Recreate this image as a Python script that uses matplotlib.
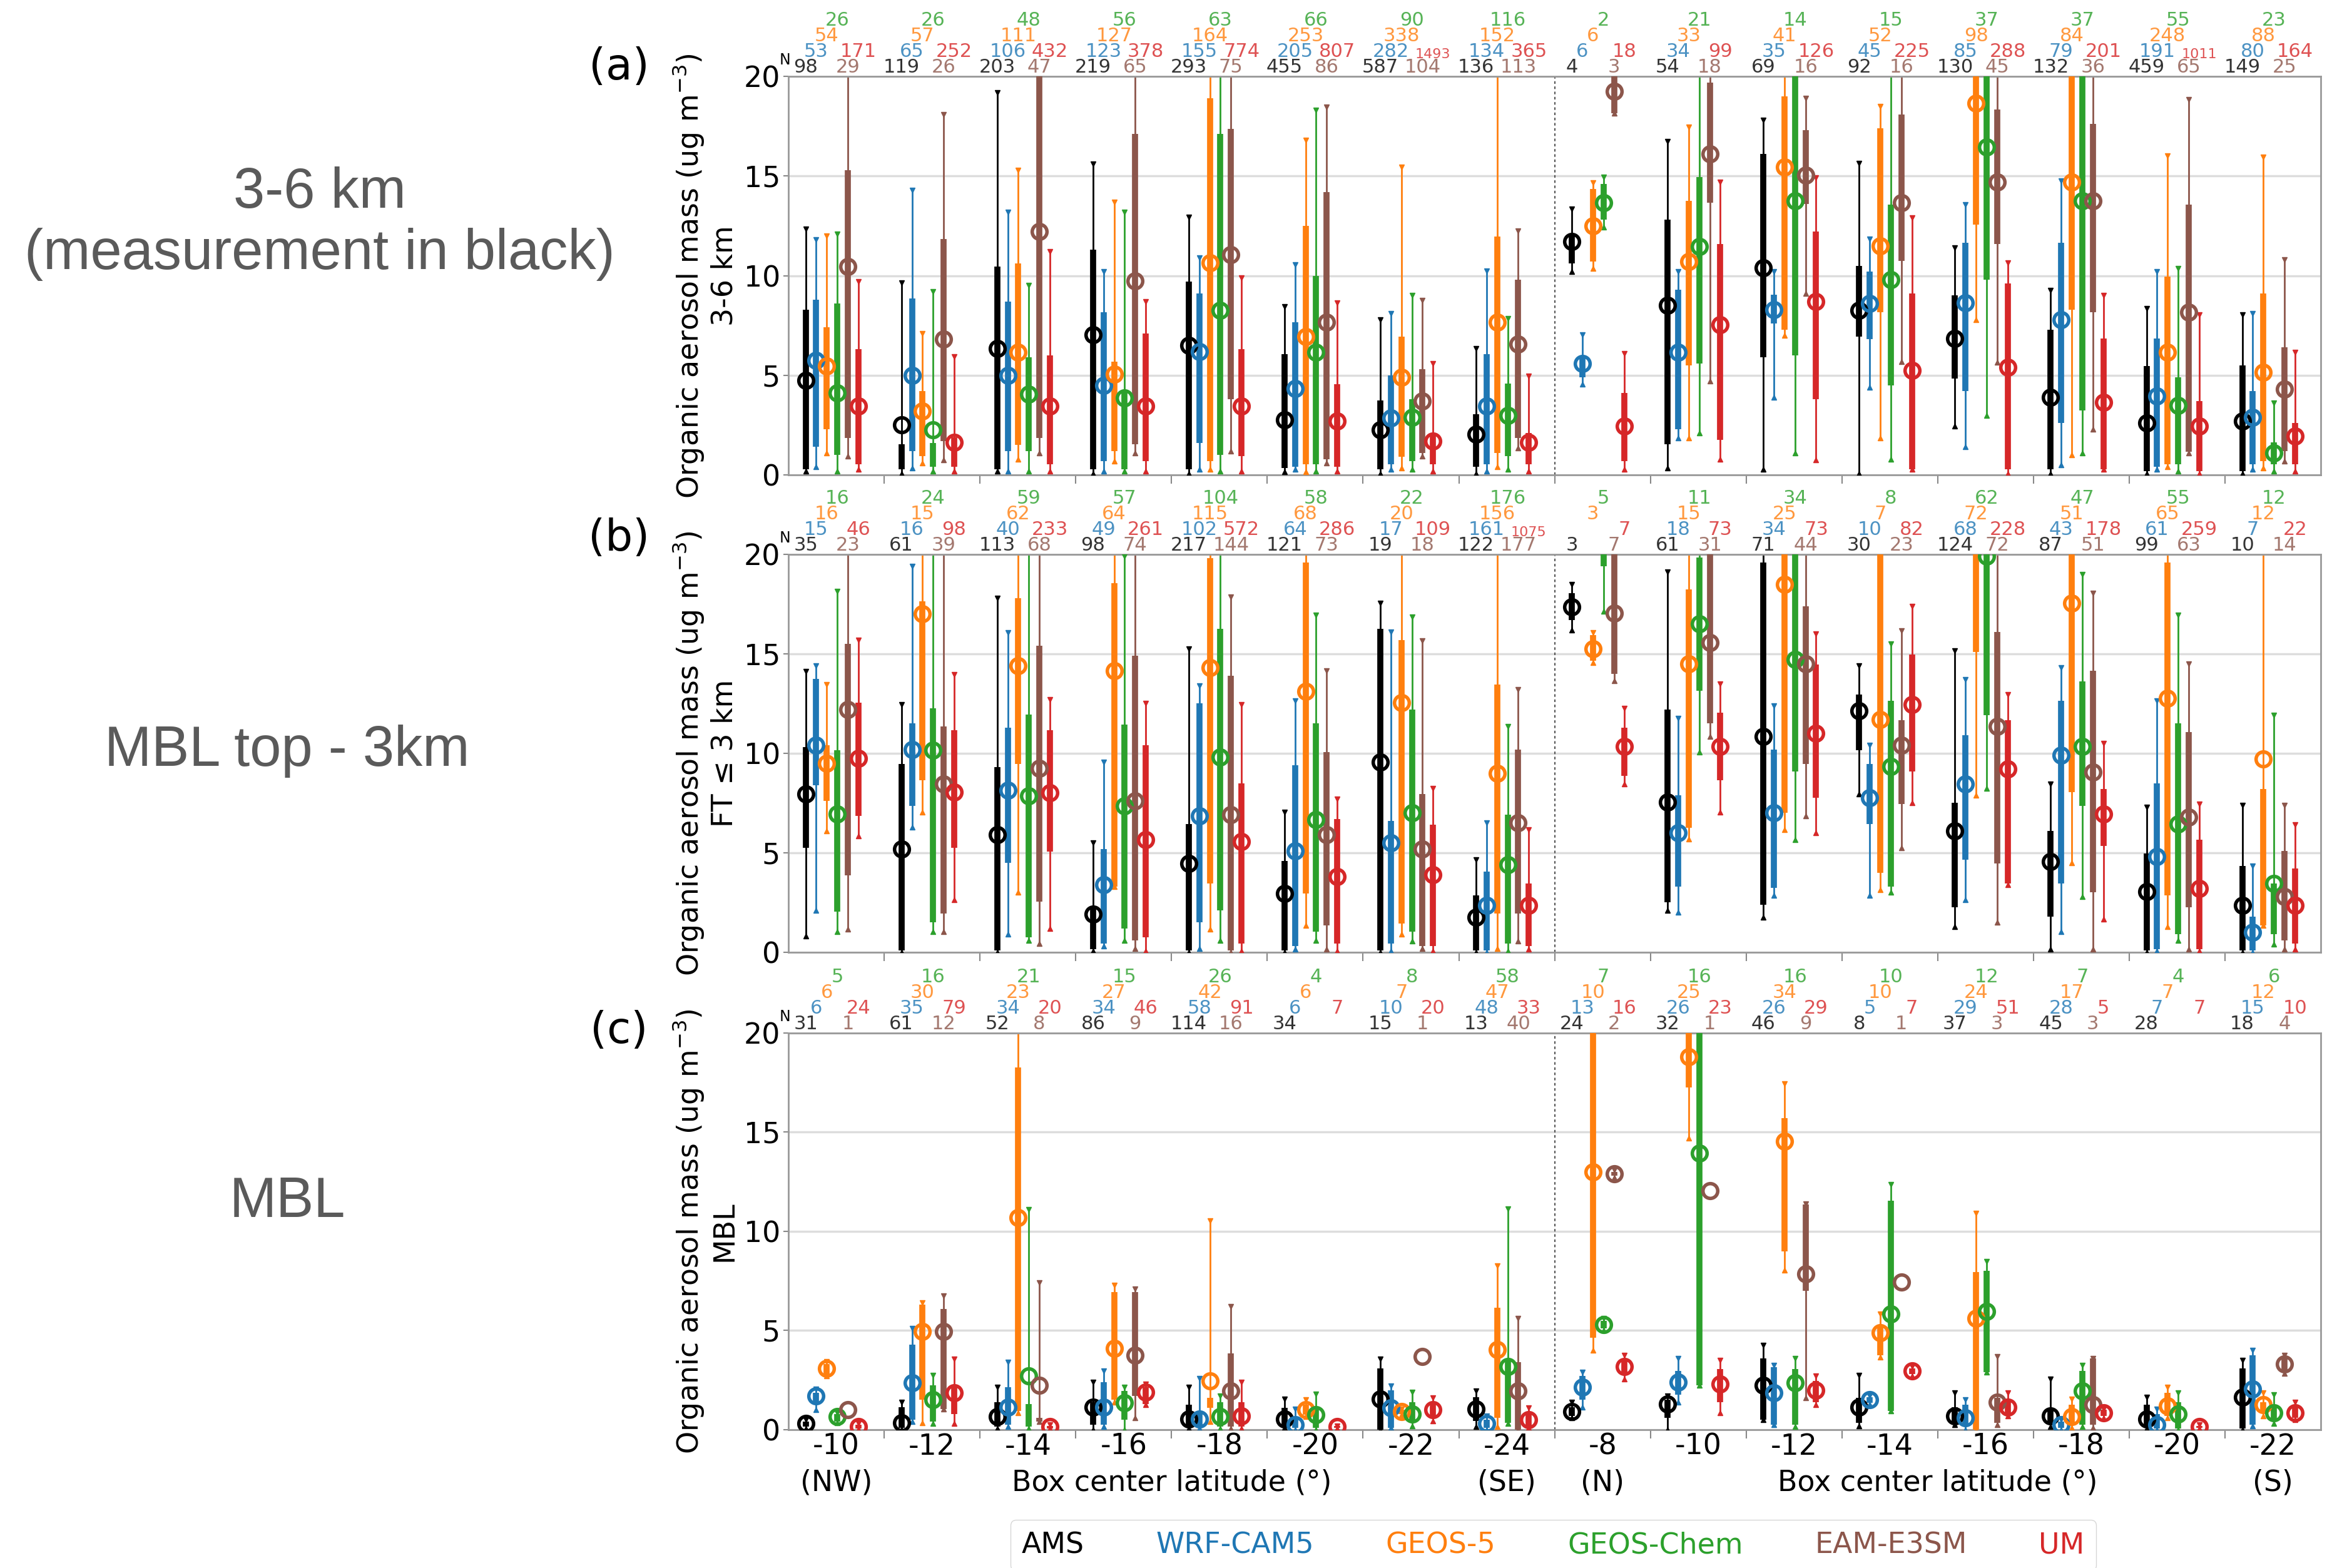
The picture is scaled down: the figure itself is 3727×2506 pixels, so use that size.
import numpy as np
import matplotlib
matplotlib.use("Agg")
import matplotlib.pyplot as plt
from matplotlib.lines import Line2D

models = ['AMS', 'WRF-CAM5', 'GEOS-5', 'GEOS-Chem', 'EAM-E3SM', 'UM']
colors = ['#000000', '#1f77b4', '#ff7f0e', '#2ca02c', '#8c564b', '#d62728']
lat_left = ['-10', '-12', '-14', '-16', '-18', '-20', '-22', '-24']
lat_right = ['-8', '-10', '-12', '-14', '-16', '-18', '-20', '-22']

# ---- panel (a): 3-6 km ; rows = models, columns = 16 boxes (8 routine + 8 N-S)
a_wlo = [[0.2, 0.05, 0.2, 0.05, 0.05, 0.15, 0.05, 0.05, 10.2, 0.35, 0.3, 0.05, 2.45, 0.05, 0.05, 0.05],
         [0.4, 0.35, 0.2, 0.2, 0.3, 0.3, 0.3, 0.2, 4.55, 1.85, 3.9, 4.4, 1.4, 0.5, 0.3, 0.3],
         [1.1, 0.6, 0.8, 0.7, 0.3, 0.15, 0.35, 0.4, 10.35, 1.85, 7.0, 1.85, 7.8, 1.0, 0.4, 0.35],
         [0.2, 0.2, 0.2, 0.2, 0.2, 0.2, 0.3, 0.3, 12.45, 2.1, 1.1, 0.8, 3.0, 1.1, 0.2, 0.2],
         [0.95, 0.75, 1.1, 1.1, 1.2, 0.6, 0.95, 1.35, 18.15, 4.7, 9.1, 5.7, 5.65, 2.3, 1.1, 0.7],
         [0.3, 0.2, 0.2, 0.2, 0.2, 0.2, 0.2, 0.2, 0.3, 0.8, 0.75, 0.3, 0.05, 0.3, 0.05, 0.2]]
a_q1 = [[0.3, 0.3, 0.3, 0.3, 0.3, 0.35, 0.3, 0.4, 10.6, 1.55, 5.9, 6.95, 4.85, 0.3, 0.2, 0.2],
        [1.4, 1.2, 1.2, 0.7, 1.6, 0.4, 0.55, 0.55, 4.9, 2.3, 7.6, 6.8, 4.2, 2.6, 0.4, 0.55],
        [2.3, 0.95, 1.5, 1.2, 0.7, 0.55, 0.9, 1.1, 10.7, 5.5, 7.3, 8.15, 12.55, 8.3, 0.55, 0.7],
        [1.0, 0.4, 1.2, 0.3, 1.0, 0.55, 0.7, 0.95, 12.8, 5.6, 6.0, 4.5, 9.8, 3.25, 0.55, 0.55],
        [1.85, 1.7, 1.85, 1.55, 3.8, 0.8, 1.1, 1.85, 18.15, 13.65, 13.6, 10.75, 11.6, 8.15, 1.15, 1.2],
        [0.55, 0.4, 0.55, 0.7, 0.95, 0.4, 0.55, 0.55, 0.7, 1.75, 3.8, 0.3, 0.3, 0.3, 0.2, 0.55]]
a_mean = [[4.75, 2.5, 6.35, 7.05, 6.5, 2.75, 2.25, 2.05, 11.7, 8.5, 10.4, 8.25, 6.85, 3.9, 2.6, 2.7],
          [5.75, 5.0, 5.0, 4.5, 6.2, 4.35, 2.85, 3.45, 5.6, 6.15, 8.3, 8.6, 8.65, 7.8, 3.95, 2.9],
          [5.45, 3.2, 6.15, 5.05, 10.65, 6.95, 4.9, 7.65, 12.5, 10.7, 15.45, 11.5, 18.65, 14.7, 6.15, 5.15],
          [4.1, 2.25, 4.05, 3.85, 8.25, 6.15, 2.9, 3.0, 13.65, 11.45, 13.75, 9.8, 16.45, 13.75, 3.5, 1.1],
          [10.45, 6.8, 12.2, 9.75, 11.05, 7.65, 3.7, 6.55, 19.25, 16.1, 15.05, 13.65, 14.7, 13.75, 8.15, 4.3],
          [3.45, 1.65, 3.45, 3.45, 3.45, 2.7, 1.7, 1.65, 2.45, 7.55, 8.7, 5.25, 5.4, 3.65, 2.45, 1.95]]
a_q3 = [[8.3, 1.55, 10.45, 11.3, 9.7, 6.05, 3.75, 3.05, 12.0, 12.8, 16.1, 10.5, 9.0, 7.3, 5.45, 5.5],
        [8.8, 8.85, 8.7, 8.15, 9.1, 7.65, 5.0, 6.05, 6.0, 9.3, 9.05, 10.2, 11.65, 11.65, 6.85, 4.2],
        [7.4, 4.2, 10.6, 5.7, 18.9, 12.5, 6.95, 11.95, 14.35, 13.75, 19.0, 17.4, 22, 22, 9.95, 9.1],
        [8.6, 1.6, 5.9, 4.2, 17.1, 10.0, 3.8, 4.6, 14.6, 14.95, 22, 13.55, 22, 22, 4.9, 1.65],
        [15.3, 11.85, 22, 17.1, 17.35, 14.2, 5.3, 9.8, 22, 19.7, 17.3, 18.1, 18.35, 17.6, 13.55, 6.4],
        [6.3, 1.9, 6.0, 7.1, 6.3, 4.55, 2.05, 2.1, 4.1, 11.6, 12.2, 9.1, 9.6, 6.85, 3.7, 2.6]]
a_whi = [[12.35, 9.65, 19.2, 15.6, 12.95, 8.45, 7.8, 6.35, 13.35, 16.75, 17.8, 15.65, 11.4, 9.25, 8.35, 8.05],
         [11.8, 14.3, 13.2, 10.2, 10.9, 10.55, 8.1, 10.25, 7.05, 10.2, 10.2, 11.85, 13.55, 14.75, 10.2, 8.1],
         [12.0, 7.1, 15.3, 13.7, 25, 16.8, 15.45, 25, 14.65, 17.45, 25, 18.5, 25, 25, 16.0, 15.95],
         [12.1, 9.2, 9.5, 13.2, 25, 18.3, 9.0, 7.85, 14.95, 25, 25, 25, 25, 25, 10.35, 3.6],
         [25, 18.1, 25, 25, 25, 18.45, 8.75, 12.25, 25, 25, 18.9, 25, 25, 25, 18.85, 10.8],
         [9.7, 5.95, 11.2, 8.7, 9.9, 8.65, 5.6, 4.95, 6.1, 14.7, 14.9, 12.9, 10.65, 9.0, 8.05, 6.15]]
a_n = [[98, 119, 203, 219, 293, 455, 587, 136, 4, 54, 69, 92, 130, 132, 459, 149],
       [53, 65, 106, 123, 155, 205, 282, 134, 6, 34, 35, 45, 85, 79, 191, 80],
       [54, 57, 111, 127, 164, 253, 338, 152, 6, 33, 41, 52, 98, 84, 248, 88],
       [26, 26, 48, 56, 63, 66, 90, 116, 2, 21, 14, 15, 37, 37, 55, 23],
       [29, 26, 47, 65, 75, 86, 104, 113, 3, 18, 16, 16, 45, 36, 65, 25],
       [171, 252, 432, 378, 774, 807, 1493, 365, 18, 99, 126, 225, 288, 201, 1011, 164]]

# ---- panel (b): MBL top - 3 km
b_wlo = [[0.8, 0, 0, 0.05, 0, 0, 0, 0, 16.2, 2.1, 1.75, 7.95, 1.3, 0.15, 0, 0],
         [2.1, 6.3, 0.9, 0.3, 0.2, 0.15, 0.05, 0, None, 2.0, 2.85, 2.85, 2.65, 1.05, 0.05, 0],
         [6.1, 7.05, 3.0, 3.3, 1.15, 1.35, 0.9, 0.2, 14.55, 5.7, 6.15, 3.15, 7.9, 4.5, 1.3, 1.35],
         [1.05, 1.05, 0.6, 0.6, 0.6, 0.6, 0.55, 0.05, 17.15, 10.05, 5.65, 3.0, 8.25, 2.8, 0.6, 0.4],
         [1.15, 1.05, 0.45, 0.2, 0, 0.15, 0.2, 0.55, 13.65, 10.85, 6.85, 5.25, 1.5, 0.15, 0.15, 0.15],
         [5.85, 2.65, 1.2, 0.05, 0.05, 0.05, 0.05, 0.15, 8.45, 7.05, 6.0, 7.5, 3.4, 1.65, 0.05, 0.15]]
b_q1 = [[5.25, 0.1, 0.1, 0.15, 0.1, 0.1, 0.1, 0.1, 16.7, 2.5, 2.4, 10.15, 2.25, 1.8, 0.1, 0.1],
        [8.4, 7.35, 4.5, 0.45, 1.5, 0.3, 0.45, 0.1, None, 3.3, 3.25, 6.45, 4.65, 3.45, 0.15, 0.1],
        [7.6, 8.65, 9.45, 3.3, 3.45, 2.95, 1.45, 1.95, 14.65, 6.25, 7.0, 4.0, 15.1, 8.05, 2.85, 1.35],
        [2.05, 1.5, 0.75, 1.2, 2.1, 1.05, 1.05, 0.45, 19.4, 13.15, 9.1, 3.3, 11.9, 7.35, 0.9, 0.9],
        [3.85, 1.95, 2.55, 0.6, 0.1, 1.35, 0.3, 1.95, 14.0, 11.5, 9.45, 7.45, 4.45, 3.0, 2.25, 0.6],
        [6.85, 5.25, 5.05, 0.75, 0.45, 0.45, 0.3, 0.3, 8.85, 8.65, 7.75, 9.1, 3.45, 5.35, 0.15, 0.45]]
b_mean = [[7.95, 5.2, 5.9, 1.9, 4.45, 2.95, 9.55, 1.75, 17.35, 7.55, 10.85, 12.15, 6.1, 4.55, 3.05, 2.35],
          [10.4, 10.2, 8.15, 3.4, 6.85, 5.1, 5.5, 2.35, None, 6.0, 7.0, 7.75, 8.45, 9.9, 4.8, 1.0],
          [9.5, 17.0, 14.4, 14.15, 14.3, 13.1, 12.55, 9.0, 15.25, 14.5, 18.5, 11.7, 20.5, 17.55, 12.75, 9.7],
          [6.95, 10.15, 7.85, 7.35, 9.8, 6.65, 7.0, 4.4, 21, 16.5, 14.7, 9.35, 19.9, 10.35, 6.45, 3.45],
          [12.2, 8.45, 9.25, 7.6, 6.9, 5.9, 5.2, 6.5, 17.05, 15.55, 14.5, 10.4, 11.35, 9.05, 6.8, 2.8],
          [9.75, 8.05, 8.0, 5.65, 5.55, 3.8, 3.9, 2.35, 10.35, 10.35, 11.0, 12.45, 9.2, 6.95, 3.2, 2.35]]
b_q3 = [[10.3, 9.45, 9.3, 2.25, 6.45, 4.6, 16.25, 2.85, 18.05, 12.2, 19.6, 12.95, 7.5, 6.1, 4.95, 4.35],
        [13.75, 11.5, 11.3, 5.2, 12.5, 9.4, 6.6, 4.05, None, 7.9, 10.2, 9.45, 10.9, 12.65, 8.5, 1.8],
        [10.4, 17.65, 17.8, 18.55, 19.8, 19.6, 15.7, 13.45, 15.95, 18.25, 20.0, 22, 22, 22, 19.6, 8.2],
        [10.15, 12.25, 11.95, 11.45, 16.25, 11.5, 12.2, 6.9, 22, 19.85, 22, 12.65, 22, 13.6, 11.5, 3.45],
        [15.5, 11.35, 15.4, 14.9, 13.9, 10.05, 7.95, 10.2, 20.0, 22, 17.4, 11.65, 16.1, 14.15, 11.05, 5.1],
        [12.55, 11.15, 11.15, 10.4, 8.5, 6.7, 6.4, 3.45, 11.3, 12.05, 14.45, 14.95, 11.65, 8.2, 5.65, 4.2]]
b_whi = [[14.1, 12.45, 17.8, 5.5, 15.25, 7.05, 17.55, 4.65, 18.5, 19.1, 25, 14.4, 15.15, 8.45, 7.3, 7.4],
         [14.4, 19.4, 16.05, 9.55, 13.4, 12.65, 16.1, 6.5, None, 11.75, 12.4, 10.4, 13.7, 14.3, 12.65, 4.35],
         [13.45, 25, 25, 25, 25, 25, 25, 25, 16.05, 25, 25, 25, 25, 25, 25, 25],
         [18.15, 25, 25, 19.9, 25, 16.95, 16.85, 11.35, 25, 25, 25, 15.5, 25, 19.0, 16.95, 11.9],
         [25, 25, 25, 25, 17.85, 14.15, 15.65, 13.2, 25, 25, 25, 16.15, 25, 18.05, 14.5, 7.4],
         [15.7, 13.95, 12.7, 12.5, 12.45, 7.7, 8.25, 6.15, 12.25, 13.5, 16.0, 17.4, 12.95, 10.5, 7.45, 6.4]]
b_n = [[35, 61, 113, 98, 217, 121, 19, 122, 3, 61, 71, 30, 124, 87, 99, 10],
       [15, 16, 40, 49, 102, 64, 17, 161, None, 18, 34, 10, 68, 43, 61, 7],
       [16, 15, 62, 64, 115, 68, 20, 156, 3, 15, 25, 7, 72, 51, 65, 12],
       [16, 24, 59, 57, 104, 58, 22, 176, 5, 11, 34, 8, 62, 47, 55, 12],
       [23, 39, 68, 74, 144, 73, 18, 177, 7, 31, 44, 23, 72, 51, 63, 14],
       [46, 98, 233, 261, 572, 286, 109, 1075, 7, 73, 73, 82, 228, 178, 259, 22]]

# ---- panel (c): MBL
c_wlo = [[0.05, 0, 0.05, 0, 0.05, 0.08, 0, 0.15, 0.6, 0, 0.5, 0.2, 0.25, 0.15, 0.05, 0],
         [1.0, 0.4, 0.15, 0.15, 0.05, 0, 0.08, 0, 1.15, 1.4, 0.25, 1.3, 0, 0, 0, 0.2],
         [2.7, 0.35, 0.85, 1.4, 0.4, 0.65, 0.75, 0.15, 4.0, 14.7, 8.05, 3.65, 0, 0.1, 0.6, 0.7],
         [0.35, 0.3, 0.05, 0, 0.05, 0, 0.2, 0.3, 5.0, 2.25, 0.15, 0.95, 2.9, 0.15, 0, 0.3],
         [1.0, 1.05, 0.4, 0.6, 0.05, None, 3.7, 0, 12.7, 12.05, 1.6, 7.45, 0.25, 0.1, None, 2.85],
         [0.02, 0.3, 0.05, 1.25, 0.05, 0.05, 0.45, 0.08, 2.55, 0.85, 1.25, 2.7, 0.7, 0.6, 0.05, 0.5]]
c_q1 = [[0.15, 0.1, 0.15, 0.25, 0.15, 0.15, 0, 0.45, 0.7, 0.6, 0.5, 0.35, 0.35, 0.25, 0.15, 0.05],
        [1.25, 0.5, 0.25, 0.25, 0.15, 0.08, 0.08, 0.08, 1.5, 1.75, 0.25, 1.35, 0.25, 0.1, 0.05, 0.25],
        [2.75, 1.5, 0.95, 1.5, 1.1, 0.75, 0.8, 0.6, 4.65, 17.25, 9.0, 3.75, 0, 0.25, 0.7, 0.85],
        [0.4, 0.4, 0.15, 0.5, 0.15, 0.08, 0.35, 0.35, 5.1, 2.25, 0.25, 0.95, 2.9, 0.25, 0.05, 0.4],
        [1.0, 1.05, 0.4, 1.7, 0.15, None, 3.7, 0, 12.8, 12.05, 7.0, 7.45, 0.35, 0.25, None, 2.95],
        [0.05, 0.8, 0.05, 1.3, 0.15, 0.1, 0.6, 0.15, 2.85, 1.4, 1.4, 2.8, 0.8, 0.7, 0.1, 0.6]]
c_mean = [[0.3, 0.35, 0.65, 1.15, 0.55, 0.55, 1.55, 1.05, 0.9, 1.3, 2.25, 1.15, 0.7, 0.7, 0.55, 1.65],
          [1.7, 2.35, 1.15, 1.15, 0.55, 0.25, 1.1, 0.3, 2.15, 2.4, 1.85, 1.5, 0.6, 0.25, 0.25, 2.05],
          [3.1, 4.95, 10.7, 4.1, 2.45, 1.0, 0.9, 4.05, 13.0, 18.8, 14.55, 4.9, 5.6, 0.65, 1.2, 1.25],
          [0.65, 1.5, 2.7, 1.35, 0.65, 0.75, 0.8, 3.2, 5.3, 13.95, 2.35, 5.85, 5.95, 1.95, 0.8, 0.85],
          [1.0, 4.95, 2.25, 3.75, 1.95, None, 3.7, 1.95, 12.9, 12.05, 7.85, 7.45, 1.4, 1.25, None, 3.3],
          [0.15, 1.85, 0.15, 1.9, 0.7, 0.15, 1.0, 0.5, 3.2, 2.3, 2.0, 2.95, 1.15, 0.85, 0.15, 0.85]]
c_q3 = [[0.4, 1.15, 1.4, 1.4, 1.25, 1.1, 3.1, 1.65, 1.15, 1.5, 3.6, 1.6, 1.15, 1.05, 1.25, 3.1],
        [1.85, 4.3, 2.15, 2.4, 0.85, 0.65, 2.0, 0.5, 2.7, 2.95, 3.15, 1.65, 1.25, 0.4, 0.8, 3.75],
        [3.3, 6.3, 18.25, 6.95, 1.6, 1.25, 1.0, 6.15, 22, 22, 15.7, 5.2, 7.95, 1.25, 1.85, 1.4],
        [0.8, 2.25, 1.3, 1.95, 1.4, 1.1, 1.4, 3.5, 5.5, 22, 3.05, 11.55, 8.0, 2.95, 1.4, 1.25],
        [1.0, 6.1, 0.6, 6.95, 3.85, None, 3.7, 3.4, 13.0, 12.05, 11.35, 7.45, 1.6, 3.6, None, 3.6],
        [0.25, 2.15, 0.2, 2.15, 1.4, 0.2, 1.35, 0.9, 3.5, 3.05, 2.45, 3.1, 1.5, 1.0, 0.2, 1.25]]
c_whi = [[0.5, 1.4, 2.15, 2.4, 2.15, 1.55, 3.55, 1.95, 1.4, 1.7, 4.25, 2.75, 1.85, 2.55, 1.65, 3.5],
         [2.05, 5.1, 3.4, 2.95, 2.6, 1.05, 2.2, 0.7, 2.9, 3.6, 3.25, 1.7, 1.5, 0.5, 1.05, 4.0],
         [3.45, 6.4, 25, 7.3, 10.55, 1.5, 1.05, 8.25, 25, 25, 17.45, 5.85, 10.9, 1.55, 2.15, 1.85],
         [0.85, 2.75, 11.1, 2.15, 1.7, 1.8, 1.9, 11.15, 5.6, 25, 3.6, 12.35, 8.5, 3.25, 1.85, 1.75],
         [1.0, 6.75, 7.4, 7.1, 6.2, None, 3.7, 5.6, 13.1, 12.05, 11.4, 7.45, 3.7, 3.6, None, 3.75],
         [0.3, 3.55, 0.25, 2.3, 2.4, 0.2, 1.6, 1.1, 3.75, 3.5, 2.7, 3.2, 1.85, 1.05, 0.25, 1.4]]
c_n = [[31, 61, 52, 86, 114, 34, 15, 13, 24, 32, 46, 8, 37, 45, 28, 18],
       [6, 35, 34, 34, 58, 6, 10, 48, 13, 26, 26, 5, 29, 28, 7, 15],
       [6, 30, 23, 27, 42, 6, 7, 47, 10, 25, 34, 10, 24, 17, 7, 12],
       [5, 16, 21, 15, 26, 4, 8, 58, 7, 16, 16, 10, 12, 7, 4, 6],
       [1, 12, 8, 9, 16, None, 1, 40, 2, 1, 9, 1, 3, 3, None, 4],
       [24, 79, 20, 46, 91, 7, 20, 33, 16, 23, 29, 7, 51, 5, 7, 10]]

offsets = [-0.32 + 0.11 * k for k in range(6)]
n_row = [0, 1, 2, 3, 0, 1]          # which stacked row each model's N sits in
row_pts = [0, 18, 36, 54]

plt.rcParams['font.size'] = 33


def draw_panel(ax, wlo, q1, mean, q3, whi, ns):
    for k in range(6):
        c = colors[k]
        for i in range(16):
            if mean[k][i] is None:
                continue
            x = i + offsets[k]
            ax.plot([x, x], [wlo[k][i], whi[k][i]], color=c, lw=2.0,
                    solid_capstyle='butt', zorder=2)
            ax.plot([x, x], [q1[k][i], q3[k][i]], color=c, lw=7,
                    solid_capstyle='butt', zorder=3)
            if whi[k][i] > wlo[k][i]:
                ax.plot(x, whi[k][i], marker='v', ms=6, color=c, zorder=3)
                ax.plot(x, wlo[k][i], marker='^', ms=6, color=c, zorder=3)
            ax.plot(x, mean[k][i], marker='o', ms=17, mfc='none', mec=c,
                    mew=4, zorder=4)
            n = ns[k][i]
            ax.annotate(str(n), xy=(x, 1), xycoords=('data', 'axes fraction'),
                        xytext=(0, row_pts[n_row[k]]), textcoords='offset points',
                        ha='center', va='bottom', fontsize=16 if n >= 1000 else 22,
                        color=c, alpha=0.8, annotation_clip=False)
    ax.annotate('N', xy=(0, 1), xycoords='axes fraction', xytext=(2, 10),
                textcoords='offset points', ha='right', va='bottom', fontsize=17)

    ax.set_xlim(-0.5, 15.5)
    ax.set_ylim(0, 20)
    ax.set_yticks([0, 5, 10, 15, 20])
    ax.set_xticks(np.arange(0.5, 15, 1))
    ax.set_xticklabels([])
    ax.set_xticks(np.arange(16), minor=True)
    ax.tick_params(axis='x', which='major', length=10, width=1.5, color='#888888')
    ax.tick_params(axis='x', which='minor', length=0)
    ax.tick_params(axis='y', length=6, width=1.5, color='#888888', labelsize=33)
    ax.yaxis.grid(True, color='#dddddd', lw=2.5)
    ax.set_axisbelow(True)
    for s in ax.spines.values():
        s.set_color('#999999')
        s.set_linewidth(2)
    ax.axvline(7.5, color='#555555', lw=1.5, linestyle=(0, (2, 2)), zorder=1)


fig = plt.figure(figsize=(37.27, 25.06), facecolor='white')
left, width = 0.3381, 0.6571
ax_a = fig.add_axes([left, 0.6971, width, 0.2542])
ax_b = fig.add_axes([left, 0.3927, width, 0.2538])
ax_c = fig.add_axes([left, 0.0882, width, 0.2530])

draw_panel(ax_a, a_wlo, a_q1, a_mean, a_q3, a_whi, a_n)
draw_panel(ax_b, b_wlo, b_q1, b_mean, b_q3, b_whi, b_n)
draw_panel(ax_c, c_wlo, c_q1, c_mean, c_q3, c_whi, c_n)

ax_a.set_ylabel('Organic aerosol mass (ug m$^{-3}$)\n3-6 km', fontsize=33, labelpad=6)
ax_b.set_ylabel('Organic aerosol mass (ug m$^{-3}$)\nFT ≤ 3 km', fontsize=33, labelpad=6)
ax_c.set_ylabel('Organic aerosol mass (ug m$^{-3}$)\nMBL', fontsize=33, labelpad=6)

ax_c.set_xticklabels(lat_left + lat_right, minor=True, fontsize=33)
for xpos, txt in [(0, '(NW)'), (7, '(SE)'), (8, '(N)'), (15, '(S)'),
                  (3.5, 'Box center latitude (°)'), (11.5, 'Box center latitude (°)')]:
    ax_c.annotate(txt, xy=(xpos, 0), xycoords=('data', 'axes fraction'),
                  xytext=(0, -61), textcoords='offset points', ha='center',
                  va='center', fontsize=33, annotation_clip=False)

for lab, y in [('(a)', 0.9573), ('(b)', 0.6568), ('(c)', 0.3427)]:
    fig.text(0.2654, y, lab, fontsize=50, ha='center', va='center')

side = dict(family='Liberation Sans', fontsize=65, color='#5a5a5a', ha='center', va='center')
fig.text(0.137, 0.8575, '3-6 km\n(measurement in black)', **side)
fig.text(0.1232, 0.5211, 'MBL top - 3km', **side)
fig.text(0.1232, 0.2334, 'MBL', **side)

handles = [Line2D([], [], linestyle='none') for _ in models]
leg = fig.legend(handles, models, loc='upper center', bbox_to_anchor=(0.666, 0.0400),
                 ncol=6, fontsize=33, handlelength=0, handletextpad=0,
                 columnspacing=2.5, edgecolor='#cccccc')
for t, c in zip(leg.get_texts(), colors):
    t.set_color(c)

fig.savefig('out.png', dpi=100)
